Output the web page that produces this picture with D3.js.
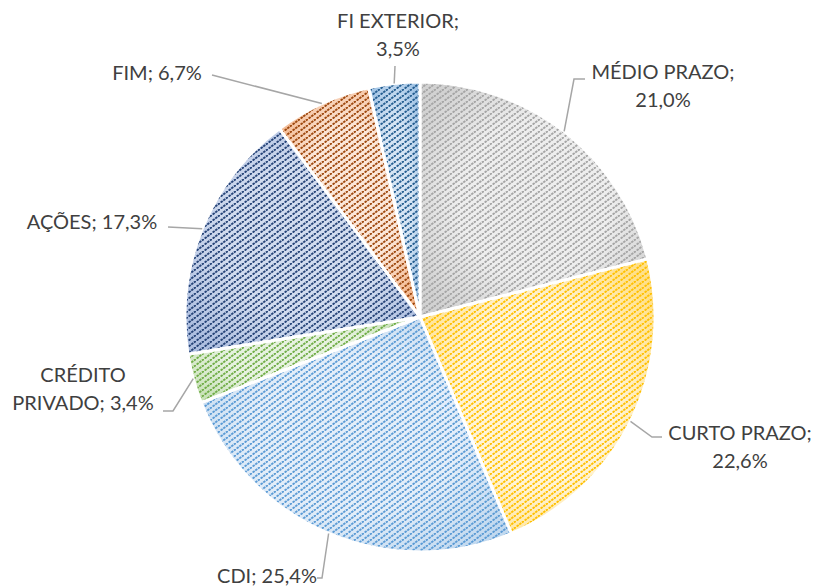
<!DOCTYPE html>
<html>
<head>
<meta charset="utf-8">
<script src="https://cdn.jsdelivr.net/npm/d3@7"></script>
<style>
  body { margin: 0; background: #fff; }
  text { font-family: Lato, "Open Sans", sans-serif; }
</style>
</head>
<body>
<div id="chart"></div>
<script>
// data
var categories = ["MÉDIO PRAZO", "CURTO PRAZO", "CDI", "CRÉDITO PRIVADO", "AÇÕES", "FIM", "FI EXTERIOR"];
var values = [21.0, 22.6, 25.4, 3.4, 17.3, 6.7, 3.5];
var valueLabels = ["21,0%", "22,6%", "25,4%", "3,4%", "17,3%", "6,7%", "3,5%"];

// colours: pale centre, edge shade, stripe
var lightColors = ["#eeeeee", "#fff4d8", "#e4eef9", "#e7f2e0", "#d2dcef", "#fce7d9", "#d6e5f4"];
var edgeColors = ["#d2d2d2", "#ffe08a", "#c2d9ef", "#c8e1b8", "#aebfe0", "#f3b68c", "#a3c5e6"];
var stripeColors = ["#a5a5a5", "#ffc000", "#5b9bd5", "#70ad47", "#264478", "#9e480e", "#255e91"];

// label layout: text lines, centre x, first baseline, leader points (label side)
var labelLines = [["MÉDIO PRAZO;", "21,0%"], ["CURTO PRAZO;", "22,6%"], ["CDI; 25,4%"],
                  ["CRÉDITO", "PRIVADO; 3,4%"], ["AÇÕES; 17,3%"], ["FIM; 6,7%"], ["FI EXTERIOR;", "3,5%"]];
var labelPos = [[663, 79], [740, 440], [267, 583], [83, 382], [92, 229], [157, 80], [398, 28]];
var leaderPts = [[[574, 79], [585, 79]], [[652, 437], [662, 437]], [[322, 578], [317, 578]],
                 [[173, 411], [163, 411]], [[168, 227]], [[212, 75]], [[395, 66]]];

var svgWidth = 819;
var svgHeight = 588;
var cx = 420, cy = 317, radius = 235;
var lineHeight = 28;

var svg = d3.select("#chart")
            .append("svg")
            .attr("width", svgWidth)
            .attr("height", svgHeight);

var defs = svg.append("defs");

categories.forEach(function(c, i) {
    var g = defs.append("radialGradient")
                .attr("id", "grad" + i)
                .attr("cx", "50%").attr("cy", "50%").attr("r", "60%");
    g.append("stop").attr("offset", "0%").attr("stop-color", lightColors[i]);
    g.append("stop").attr("offset", "55%").attr("stop-color", lightColors[i]);
    g.append("stop").attr("offset", "100%").attr("stop-color", edgeColors[i]);

    var p = defs.append("pattern")
                .attr("id", "pat" + i)
                .attr("patternUnits", "userSpaceOnUse")
                .attr("width", 8).attr("height", 6);
    p.append("line")
     .attr("x1", -2).attr("y1", 7.5).attr("x2", 10).attr("y2", -1.5)
     .attr("stroke", stripeColors[i])
     .attr("stroke-width", 1.9)
     .attr("stroke-dasharray", "2.5,0.8");
});

var pie = d3.pie().sort(null).value(function(d) { return d; });
var arcs = pie(values);

var arc = d3.arc().innerRadius(0).outerRadius(radius);
var edgeArc = d3.arc().innerRadius(radius).outerRadius(radius);

var chartGroup = svg.append("g").attr("transform", `translate(${cx}, ${cy})`);

chartGroup.selectAll("path.base")
          .data(arcs)
          .enter()
          .append("path")
          .attr("class", "base")
          .attr("d", arc)
          .attr("fill", function(d, i) { return "url(#grad" + i + ")"; });

chartGroup.selectAll("path.hatch")
          .data(arcs)
          .enter()
          .append("path")
          .attr("class", "hatch")
          .attr("d", arc)
          .attr("fill", function(d, i) { return "url(#pat" + i + ")"; })
          .attr("stroke", "#ffffff")
          .attr("stroke-width", 3)
          .attr("stroke-linejoin", "round");

// leader lines
var line = d3.line();
arcs.forEach(function(d, i) {
    var c = edgeArc.centroid(d);
    var pts = [[c[0] + cx, c[1] + cy]].concat(leaderPts[i]);
    svg.append("path")
       .attr("d", line(pts))
       .attr("fill", "none")
       .attr("stroke", "#a6a6a6")
       .attr("stroke-width", 1.5);
});

// labels
labelLines.forEach(function(lines, i) {
    var t = svg.append("text")
               .attr("text-anchor", "middle")
               .attr("font-size", "20px")
               .attr("fill", "#404040");
    lines.forEach(function(s, j) {
        t.append("tspan")
         .attr("x", labelPos[i][0])
         .attr("y", labelPos[i][1] + j * lineHeight)
         .text(s);
    });
});
</script>
</body>
</html>
